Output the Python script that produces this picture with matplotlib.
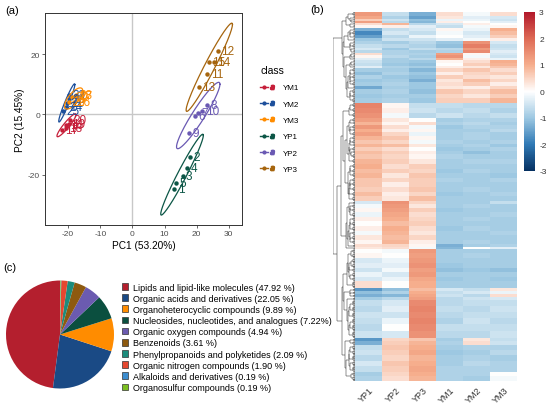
import numpy as np
import matplotlib
matplotlib.use('Agg')
import matplotlib.pyplot as plt
from matplotlib.collections import LineCollection
from matplotlib.colors import LinearSegmentedColormap, Normalize
from matplotlib.cm import ScalarMappable
from matplotlib.lines import Line2D
from matplotlib.patches import Patch
from matplotlib.legend_handler import HandlerTuple

plt.rcParams['font.family'] = ['Liberation Sans', 'DejaVu Sans']
plt.rcParams['axes.unicode_minus'] = False

W, H = 550, 406

# ---------------- (a) PCA data ----------------
pca_groups = ['YM1', 'YM2', 'YM3', 'YP1', 'YP2', 'YP3']
pca_colors = ['#C61F3A', '#1D4F9B', '#FF8C00', '#0C5646', '#6A59B3', '#A6650E']
ym1_pc1 = [-19.5, -19.8, -20.6, -20.7, -21.9]
ym1_pc2 = [-1.9, -3.1, -3.5, -4.4, -5.0]
ym1_lab = ['20', '19', '16', '18', '17']
ym2_pc1 = [-21.6, -20.6, -20.5, -19.8, -19.6]
ym2_pc2 = [1.3, 2.6, 3.9, 5.0, 6.4]
ym2_lab = ['25', '24', '21', '23', '22']
ym3_pc1 = [-19.6, -18.1, -18.7, -17.5, -17.5]
ym3_pc2 = [4.0, 4.3, 5.8, 6.0, 6.5]
ym3_lab = ['29', '26', '30', '27', '28']
yp1_pc1 = [17.8, 17.1, 15.6, 13.7, 13.0]
yp1_pc2 = [-14.0, -17.9, -20.4, -22.9, -24.7]
yp1_lab = ['2', '4', '3', '5', '1']
yp2_pc1 = [23.2, 21.7, 20.3, 19.6, 17.6]
yp2_pc2 = [3.0, 1.3, 0.6, -0.5, -6.1]
yp2_lab = ['8', '10', '7', '6', '9']
yp3_pc1 = [26.6, 23.8, 25.3, 23.3, 20.6]
yp3_pc2 = [21.1, 17.3, 17.5, 13.5, 9.0]
yp3_lab = ['12', '15', '14', '11', '13']
pca_x = [ym1_pc1, ym2_pc1, ym3_pc1, yp1_pc1, yp2_pc1, yp3_pc1]
pca_y = [ym1_pc2, ym2_pc2, ym3_pc2, yp1_pc2, yp2_pc2, yp3_pc2]
pca_lab = [ym1_lab, ym2_lab, ym3_lab, yp1_lab, yp2_lab, yp3_lab]
ellipse_level = 0.92

# ---------------- (b) heatmap data (blocks of rows) ----------------
heat_cols = ['YP1', 'YP2', 'YP3', 'YM1', 'YM2', 'YM3']
row_counts = [4, 3, 2, 2, 2, 3, 3, 4, 3, 3, 3, 4, 2, 3, 2, 3, 2, 3, 3, 2,
              4, 3, 4, 3, 4, 3, 5, 4, 5, 5, 5, 5, 4, 3, 4, 3, 4,
              4, 4, 3, 4, 3, 5, 5, 5, 4, 5, 4, 5, 5, 5, 5,
              3, 4, 4, 5, 4, 5, 5, 4, 5, 4, 3, 2, 4, 5,
              5, 5, 4, 5, 4, 7, 3, 3, 3, 3, 6, 6, 6, 6, 7, 7, 3, 4,
              5, 5, 6, 5, 6, 4, 5]
yp1 = [1.3, 1.1, 0.6, 1.2, 0.4, 0.1, -1.3, -1.8, -1.5, -1.0, -0.8, -0.6, -0.4, -0.7, 0.4, 0.1, -0.3, -0.5, -0.6, -0.3,
       -0.9, -1.1, -0.8, -1.0, -0.9, -1.4, -0.9, -1.0, -0.9, 1.6, 1.5, 1.4, 1.2, 0.9, 1.3, 1.0, 1.2,
       0.9, 0.7, 0.9, 0.6, 0.8, 0.7, 0.9, 1.0, 0.8, 0.9, 0.7, 0.7, 0.6, 0.8, 0.6,
       -0.4, -0.1, 0.1, -0.2, 0.2, 0.0, 0.2, -0.1, 0.3, 0.1, 0.4, 0.3, 0.0, 0.1,
       -0.4, -0.3, -0.5, -0.2, -0.4, 0.4, -1.6, -1.1, -1.3, -0.9, -0.6, -0.7, -0.5, -0.6, -0.7, -0.5, -1.6, -1.3,
       -0.6, -0.5, -0.7, -0.4, -0.6, -0.9, -0.8]
yp2 = [-0.6, -0.8, -0.5, -0.7, 0.9, 0.2, -0.6, -0.4, -0.7, -0.5, -0.9, -0.7, -1.0, -0.8, -0.8, -0.7, -0.9, -0.9, -1.0, -0.8,
       -0.9, -0.8, -1.0, -0.9, -0.8, -0.9, -0.8, -0.9, -0.8, 0.1, 0.2, -0.1, 0.3, 0.1, 0.4, 0.2, 0.5,
       0.7, 0.5, 0.8, 0.4, 0.6, 0.5, 0.6, 0.4, 0.6, 0.3, 0.5, 0.2, 0.4, 0.2, 0.3,
       1.4, 1.3, 1.2, 1.1, 1.0, 0.8, 1.0, 0.9, 0.8, 0.9, 0.5, 0.4, -0.1, 0.0,
       -0.2, -0.3, -0.1, -0.4, -0.2, 0.0, -1.1, -0.8, -1.2, -0.7, -0.4, -0.3, -0.5, -0.2, 0.0, -0.4, 0.5, 0.6,
       0.7, 0.6, 0.5, 0.7, 0.6, 0.5, 0.4]
yp3 = [-1.3, -1.5, -1.1, -1.2, -0.7, -0.3, -0.4, -0.6, -0.2, -0.5, -0.7, -0.8, -0.6, -0.9, -0.8, -0.9, -0.7, -1.0, -1.1, -0.9,
       -1.2, -1.0, -1.1, -1.3, -1.0, -1.0, -1.1, -0.9, -1.0, -0.6, -0.5, -0.7, 0.0, 0.4, -0.1, 0.1, -0.2,
       0.1, -0.1, 0.3, 0.0, 0.2, 0.1, 0.3, 0.6, 0.5, 0.7, 0.6, 0.6, 0.7, 0.5, 0.8,
       0.5, 0.3, 0.6, 0.4, 0.5, 0.6, 0.4, 0.3, 0.5, 0.2, 0.1, -0.1, 1.3, 1.2,
       1.3, 1.4, 1.2, 1.3, 1.1, 1.0, 0.8, 1.0, 1.1, 1.2, 1.5, 1.6, 1.5, 1.6, 1.5, 1.4, 0.7, 0.9,
       1.0, 1.1, 0.9, 1.0, 1.1, 1.0, 0.9]
ym1 = [0.4, 0.3, -0.2, 0.2, -0.4, -0.6, 0.1, -0.1, 0.0, -0.3, -1.0, -1.1, -0.7, -0.8, 1.2, 1.4, 0.9, 0.1, 0.0, 0.2,
       0.5, 0.2, 0.6, 0.3, 0.4, 0.3, 0.7, 0.5, 0.6, -0.6, -0.7, -0.5, -0.9, -0.8, -1.0, -0.9, -0.9,
       -0.9, -0.8, -0.9, -1.0, -0.9, -0.8, -0.9, -0.9, -1.0, -0.9, -0.8, -0.9, -0.9, -1.0, -0.9,
       -0.9, -0.9, -1.0, -0.9, -0.9, -0.9, -1.0, -0.9, -0.9, -0.9, -1.3, -1.2, -0.9, -0.9,
       -0.9, -1.0, -1.1, -0.9, -1.0, -0.9, -0.4, -0.6, -0.5, -0.7, -0.7, -0.6, -0.7, -0.8, -0.6, -0.7, -0.9, -0.8,
       -0.9, -1.0, -0.9, -0.9, -0.8, -0.8, -0.8]
ym2 = [-0.1, -0.3, -0.2, 0.0, 0.2, -0.1, -0.2, -0.4, -0.3, -0.1, 1.4, 1.7, 1.3, 1.5, 0.1, -0.1, 0.2, 0.4, 0.6, 0.3,
       0.7, 0.5, 0.4, 0.8, 0.6, 0.2, 0.5, 0.3, 0.6, -0.7, -0.6, -0.7, -0.8, -0.7, -0.8, -0.9, -0.8,
       -0.8, -0.9, -0.8, -0.9, -1.1, -0.9, -0.8, -0.9, -0.8, -0.9, -0.9, -0.9, -0.8, -0.9, -0.9,
       -0.9, -0.8, -0.9, -0.9, -0.8, -0.9, -0.8, -0.9, -0.9, -0.8, -0.9, 0.0, -0.9, -0.8,
       -0.9, -0.9, -1.0, -0.9, -0.9, -0.9, -0.6, -0.4, -0.7, -0.5, -0.6, -0.7, -0.6, -0.5, -0.6, -0.7, 0.3, 0.4,
       -0.8, -0.9, -0.8, -0.7, -0.8, -0.8, -0.9]
ym3 = [0.4, -0.4, -0.5, -0.3, 0.0, 0.1, 1.0, 0.8, 0.6, 0.2, -0.4, -0.6, -0.5, -0.3, -0.4, -0.5, -0.2, 1.0, 0.9, 0.7,
       0.4, 0.6, 0.3, 0.5, 0.2, 0.5, 0.8, 0.6, 0.9, -0.7, -0.8, -0.6, -0.8, -0.9, -0.8, -0.7, -0.9,
       -0.9, -0.8, -1.0, -0.8, -0.9, -0.9, -0.8, -0.9, -0.9, -1.0, -0.8, -0.9, -0.9, -0.8, -0.9,
       -0.6, -0.9, -0.9, -0.8, -0.9, -0.9, -0.9, -0.8, -0.9, -0.9, -0.8, -0.3, -0.9, -0.9,
       -0.9, -0.9, -1.1, -0.9, -1.0, -0.9, 0.3, -0.2, 0.4, -0.4, -0.6, -0.5, -0.6, -0.7, -0.6, -0.5, -0.6, -0.5,
       -0.8, -0.7, -0.9, -0.8, -0.8, 0.0, -0.1]

# ---------------- (c) pie data ----------------
pie_labels = ['Lipids and lipid-like molecules', 'Organic acids and derivatives',
              'Organoheterocyclic compounds', 'Nucleosides, nucleotides, and analogues',
              'Organic oxygen compounds', 'Benzenoids', 'Phenylpropanoids and polyketides',
              'Organic nitrogen compounds', 'Alkaloids and derivatives', 'Organosulfur compounds']
pie_values = [47.92, 22.05, 9.89, 7.22, 4.94, 3.61, 2.09, 1.90, 0.19, 0.19]
pie_legend_text = ['Lipids and lipid-like molecules (47.92 %)', 'Organic acids and derivatives (22.05 %)',
                   'Organoheterocyclic compounds (9.89 %)', 'Nucleosides, nucleotides, and analogues (7.22%)',
                   'Organic oxygen compounds (4.94 %)', 'Benzenoids (3.61 %)',
                   'Phenylpropanoids and polyketides (2.09 %)', 'Organic nitrogen compounds (1.90 %)',
                   'Alkaloids and derivatives (0.19 %)', 'Organosulfur compounds (0.19 %)']
pie_colors = ['#B41F2E', '#1A4A85', '#FF8C00', '#0B4F3F', '#6B5BB0', '#8E5A10',
              '#1C8C7C', '#E5472F', '#3C8DD0', '#7CBF21']

fig = plt.figure(figsize=(W / 100, H / 100), dpi=100)


def fax(l, t, r, b):
    return fig.add_axes([l / W, 1 - b / H, (r - l) / W, (b - t) / H])


# ===== (a) PCA =====
ax = fax(45, 14, 242, 226)
ax.set_xlim(-27.2, 34.1)
ax.set_ylim(-36.7, 33.7)
ax.axhline(0, color='#C8C8C8', lw=1.0, zorder=0)
ax.axvline(0, color='#C8C8C8', lw=1.0, zorder=0)
t = np.linspace(0, 2 * np.pi, 200)
for xs, ys, labs, col in zip(pca_x, pca_y, pca_lab, pca_colors):
    xs = np.asarray(xs); ys = np.asarray(ys)
    n = len(xs)
    d2 = n - 1
    fq = d2 / 2 * ((1 - ellipse_level) ** (-2 / d2) - 1)
    rad = np.sqrt(2 * fq)
    cov = np.cov(np.vstack([xs, ys]))
    L = np.linalg.cholesky(cov)
    circ = np.vstack([np.cos(t), np.sin(t)]) * rad
    el = L @ circ
    ax.plot(xs.mean() + el[0], ys.mean() + el[1], color=col, lw=0.9)
    ax.plot(xs, ys, 'o', color=col, ms=3.2, mec='none')
    for x, y, s in zip(xs, ys, labs):
        ax.annotate(s, (x, y), xytext=(2.5, 0), textcoords='offset points',
                    ha='left', va='center', fontsize=8.5, color=col)
ax.set_xticks([-20, -10, 0, 10, 20, 30])
ax.set_yticks([-20, 0, 20])
ax.tick_params(labelsize=6, colors='#4D4D4D', length=2, width=0.6, pad=1.5)
for sp in ax.spines.values():
    sp.set_color('#333333'); sp.set_linewidth(0.7)
ax.set_xlabel('PC1 (53.20%)', fontsize=7.3, labelpad=2)
ax.set_ylabel('PC2 (15.45%)', fontsize=7.3, labelpad=2)

handles = []
for col in pca_colors:
    handles.append((Line2D([], [], color=col, lw=1, marker='o', ms=3, mec='none'),
                    Line2D([], [], color=col, lw=0, marker='$a$', ms=3.2)))
leg = fig.legend(handles, pca_groups, loc='upper left', bbox_to_anchor=(256 / W, 1 - 62 / H),
                 frameon=False, title='class', fontsize=5.8, title_fontsize=7.5,
                 handlelength=1.9, handletextpad=0.9, labelspacing=1.08, borderpad=0,
                 alignment='left', handler_map={tuple: HandlerTuple(ndivide=None)})

fig.text(5 / W, 1 - 11 / H, '(a)', fontsize=8, va='center', ha='left')
fig.text(310 / W, 1 - 10 / H, '(b)', fontsize=8, va='center', ha='left')
fig.text(3 / W, 1 - 268 / H, '(c)', fontsize=8, va='center', ha='left')

# ===== (b) heatmap =====
mat = np.repeat(np.column_stack([yp1, yp2, yp3, ym1, ym2, ym3]), row_counts, axis=0)
nrow = mat.shape[0]
cmap = LinearSegmentedColormap.from_list('hm', [
    (0.0, '#053061'), (1 / 6, '#2F79B5'), (2 / 6, '#9DC8E2'), (0.5, '#FFFFFF'),
    (4 / 6, '#F6AE8D'), (5 / 6, '#DE6A55'), (1.0, '#B2182B')])
axh = fax(355, 13, 517, 382)
axh.imshow(mat, aspect='auto', cmap=cmap, vmin=-3, vmax=3, interpolation='nearest')
axh.set_yticks([])
axh.set_xticks(range(len(heat_cols)))
axh.set_xticklabels(heat_cols, rotation=45, ha='right', rotation_mode='anchor', fontsize=6.5, color='#333333')
axh.tick_params(axis='x', length=0, pad=3)
for sp in axh.spines.values():
    sp.set_visible(False)

# dendrogram: adjacency-constrained Ward clustering of the rows
cl_c = [mat[i].copy() for i in range(nrow)]
cl_n = [1] * nrow
cl_h = [0.0] * nrow
cl_y = [float(i) for i in range(nrow)]
segs = []
while len(cl_c) > 1:
    C = np.array(cl_c); N = np.array(cl_n, dtype=float)
    dist = np.sqrt(2 * N[:-1] * N[1:] / (N[:-1] + N[1:])) * np.linalg.norm(C[:-1] - C[1:], axis=1)
    key = np.round(dist, 9) * 1e6 + (N[:-1] + N[1:])
    k = int(np.argmin(key))
    na, nb = cl_n[k], cl_n[k + 1]
    nn = na + nb
    h = 1.0 * np.sqrt(dist[k]) + 0.32 * np.log2(nn)
    h = max(h, max(cl_h[k], cl_h[k + 1]) + 0.03)
    ya, yb = cl_y[k], cl_y[k + 1]
    segs.append([(cl_h[k], ya), (h, ya)])
    segs.append([(h, ya), (h, yb)])
    segs.append([(h, yb), (cl_h[k + 1], yb)])
    cl_c[k] = (cl_c[k] * na + cl_c[k + 1] * nb) / nn
    cl_n[k] = nn
    cl_h[k] = h
    cl_y[k] = (ya + yb) / 2
    del cl_c[k + 1], cl_n[k + 1], cl_h[k + 1], cl_y[k + 1]
hmax = cl_h[0]
axd = fax(333, 13, 355, 382)
axd.add_collection(LineCollection(segs, colors='#222222', linewidths=0.35))
axd.set_xlim(hmax * 1.02, 0)
axd.set_ylim(nrow - 0.5, -0.5)
axd.axis('off')

# colorbar
cax = fax(524, 13, 535, 172)
cb = fig.colorbar(ScalarMappable(norm=Normalize(-3, 3), cmap=cmap), cax=cax)
cb.outline.set_visible(False)
cb.set_ticks([-3, -2, -1, 0, 1, 2, 3])
cb.ax.tick_params(length=0, labelsize=6, pad=3, colors='#333333')

# ===== (c) pie =====
r = 54
cx, cy = 60, 335.5
axp = fax(cx - r, cy - r, cx + r, cy + r)
axp.pie(pie_values, colors=pie_colors, startangle=90, counterclock=True,
        wedgeprops=dict(linewidth=0))
axp.set_xlim(-1, 1); axp.set_ylim(-1, 1)
ph = [Patch(facecolor=c, edgecolor='#333333', linewidth=0.5) for c in pie_colors]
fig.legend(ph, pie_legend_text, loc='upper left', bbox_to_anchor=(117 / W, 1 - 279 / H),
           frameon=False, fontsize=6.5, handlelength=0.75, handleheight=0.75,
           handletextpad=0.5, labelspacing=0.24, borderpad=0)

fig.savefig('out.png', dpi=100)
